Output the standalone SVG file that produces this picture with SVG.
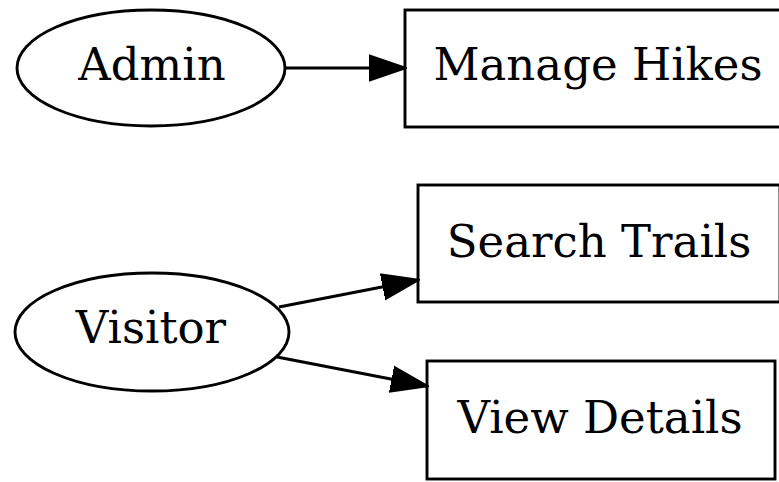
<svg xmlns="http://www.w3.org/2000/svg" width="779" height="482" viewBox="0 0 779 482">
  <style>
    .shape { fill: none; stroke: #000; stroke-width: 2.9; }
    .label { font-family: "DejaVu Serif", "Liberation Serif", serif; font-size: 45px; text-anchor: middle; fill: #000; }
    .edge { fill: none; stroke: #000; stroke-width: 2.9; }
  </style>
  <defs>
    <marker id="arrow" markerUnits="userSpaceOnUse" markerWidth="38" markerHeight="28" refX="36" refY="14" orient="auto">
      <path d="M1,2 L36,14 L1,26 Z" fill="#000" stroke="#000" stroke-width="2.6"/>
    </marker>
  </defs>
  <rect width="779" height="482" fill="#fff"/>

  <g id="connectors">
    <line class="edge" x1="285" y1="68" x2="405" y2="68" marker-end="url(#arrow)"/>
    <line class="edge" x1="279" y1="307" x2="418" y2="280" marker-end="url(#arrow)"/>
    <line class="edge" x1="277" y1="357" x2="427" y2="386" marker-end="url(#arrow)"/>
  </g>

  <g id="admin">
    <ellipse class="shape" cx="151" cy="68" rx="134" ry="58"/>
    <text class="label" x="152" y="80">Admin</text>
  </g>
  <g id="manage-hikes">
    <rect class="shape" x="405" y="10" width="385" height="117"/>
    <text class="label" x="598" y="80">Manage Hikes</text>
  </g>
  <g id="visitor">
    <ellipse class="shape" cx="152" cy="332" rx="137" ry="59"/>
    <text class="label" x="151" y="343">Visitor</text>
  </g>
  <g id="search-trails">
    <rect class="shape" x="418" y="185" width="362" height="117"/>
    <text class="label" x="599" y="257">Search Trails</text>
  </g>
  <g id="view-details">
    <rect class="shape" x="427" y="361" width="348" height="118"/>
    <text class="label" x="600" y="433">View Details</text>
  </g>
</svg>
